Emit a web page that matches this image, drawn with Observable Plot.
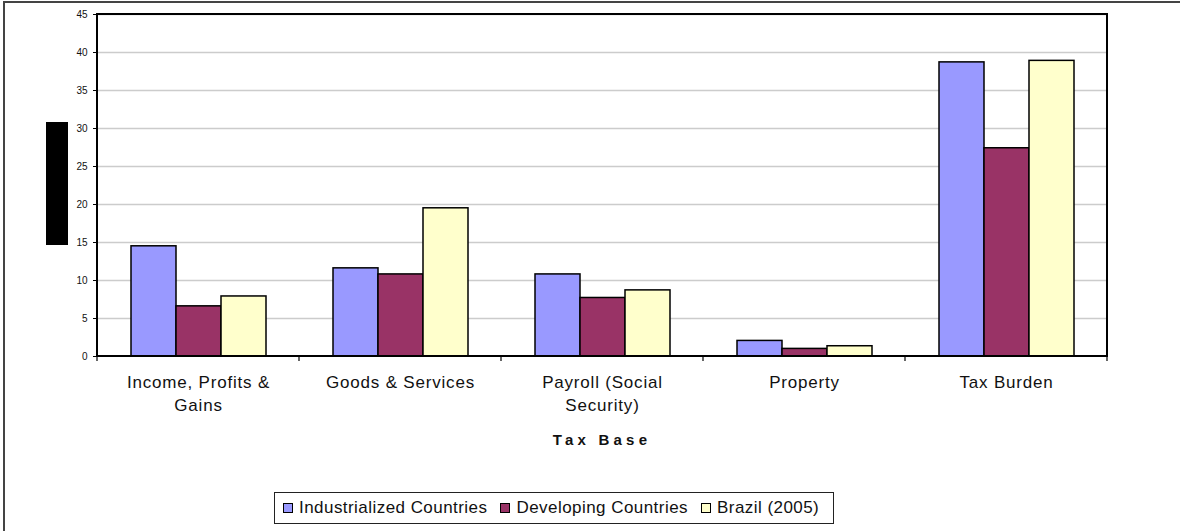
<!DOCTYPE html>
<html>
<head>
<meta charset="utf-8">
<script src="https://cdn.jsdelivr.net/npm/d3@7"></script>
<script src="https://cdn.jsdelivr.net/npm/@observablehq/plot@0.6"></script>
<style>
  html, body { margin: 0; padding: 0; background: #fff; }
  #wrap { position: relative; width: 1180px; height: 531px; overflow: hidden; font-family: "Liberation Sans", Arial, sans-serif; }
  #outer { position: absolute; left: 3px; top: 1px; width: 1200px; height: 600px; border-top: 2px solid #444; border-left: 2px solid #444; box-sizing: border-box; }
  #chart { position: absolute; left: 0; top: 0; }
  #chart g[aria-label="fx-axis tick label"] text { letter-spacing: 0.8px; }
  #legend { position: absolute; left: 274px; top: 492px; width: 560px; height: 32px; box-sizing: border-box; border: 1.5px solid #222; background: #fff;
            display: flex; align-items: center; padding-left: 8px; font-size: 17px; color: #111; white-space: nowrap; }
  #legend .item { display: flex; align-items: center; margin-right: 13px; letter-spacing: 0.45px; }
  #legend .sw { width: 8px; height: 8px; border: 1.5px solid #000; margin-right: 6px; }
</style>
</head>
<body>
<div id="wrap">
  <div id="outer"></div>
  <div id="chart"></div>
  <div id="legend"></div>
</div>
<script>
const categories = ["Income, Profits & Gains", "Goods & Services", "Payroll (Social Security)", "Property", "Tax Burden"];
const categoryLabels = ["Income, Profits &\nGains", "Goods & Services", "Payroll (Social\nSecurity)", "Property", "Tax Burden"];
const series = ["Industrialized Countries", "Developing Countries", "Brazil (2005)"];
const industrialized = [14.5, 11.6, 10.8, 2.05, 38.7];
const developing = [6.6, 10.8, 7.7, 1.0, 27.4];
const brazil = [7.9, 19.5, 8.7, 1.35, 38.9];
const seriesColors = ["#9999FF", "#993366", "#FFFFCC"];
const yTicks = [0, 5, 10, 15, 20, 25, 30, 35, 40, 45];
const xTitle = "Tax Base";

const seriesValues = [industrialized, developing, brazil];
const data = [];
categories.forEach((c, i) => {
  series.forEach((s, j) => data.push({category: c, series: s, value: seriesValues[j][i]}));
});
const labelOf = new Map(categories.map((c, i) => [c, categoryLabels[i]]));

const chart = Plot.plot({
  width: 1180,
  height: 531,
  marginLeft: 97,
  marginRight: 73,
  marginTop: 14,
  marginBottom: 175,
  style: {fontFamily: "'Liberation Sans', Arial, sans-serif", background: "transparent", color: "#111"},
  fx: {domain: categories, padding: 0, label: null},
  x: {domain: series, paddingInner: 0, paddingOuter: 0.73, axis: null},
  y: {domain: [0, 45], label: null},
  color: {domain: series, range: seriesColors},
  marks: [
    Plot.ruleY(yTicks.filter(d => d > 0), {stroke: "#cccccc", strokeWidth: 1.4}),
    Plot.barY(data, {fx: "category", x: "series", y: "value", fill: "series", stroke: "#000", strokeWidth: 1.5}),
    Plot.axisY({ticks: yTicks, tickSize: 4, tickPadding: 6, fontSize: 10, tickFormat: d => String(d), label: null, stroke: "#000"}),
    Plot.axisFx({anchor: "bottom", tickSize: 0, tickPadding: 15, fontSize: 17, lineHeight: 1.35,
                 tickFormat: c => labelOf.get(c), label: null})
  ]
});
document.getElementById("chart").appendChild(chart);

// plot-area frame, category boundary ticks and the axis title, positioned with the chart's own scales
const svg = d3.select(chart);
const fx = chart.scale("fx");
const y = chart.scale("y");
const [x0, x1] = fx.range;
const yBottom = y.apply(0);
const yTop = y.apply(45);
const bw = fx.bandwidth;
svg.append("rect")
  .attr("x", x0).attr("y", yTop).attr("width", x1 - x0).attr("height", yBottom - yTop)
  .attr("fill", "none").attr("stroke", "#000").attr("stroke-width", 2);
const bounds = [fx.apply(categories[0])].concat(categories.map(c => fx.apply(c) + bw));
svg.append("g").selectAll("line").data(bounds).join("line")
  .attr("x1", d => d).attr("x2", d => d).attr("y1", yBottom).attr("y2", yBottom + 5)
  .attr("stroke", "#000").attr("stroke-width", 1.2);
svg.append("text")
  .attr("x", (x0 + x1) / 2).attr("y", yBottom + 89)
  .attr("text-anchor", "middle").attr("font-size", 15).attr("font-weight", "bold")
  .attr("letter-spacing", "4.2px").attr("fill", "#111")
  .text(xTitle);
// redacted y-axis title block
svg.append("rect").attr("x", 46).attr("y", 122).attr("width", 22).attr("height", 123).attr("fill", "#000");

// legend
const legend = d3.select("#legend");
series.forEach((s, j) => {
  const it = legend.append("div").attr("class", "item");
  it.append("div").attr("class", "sw").style("background", seriesColors[j]);
  it.append("span").text(s);
});
</script>
</body>
</html>
